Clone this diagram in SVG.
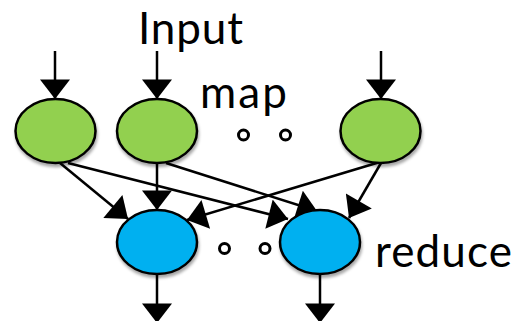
<svg xmlns="http://www.w3.org/2000/svg" width="515" height="321" viewBox="0 0 515 321">
<defs>
<marker id="ah" markerUnits="userSpaceOnUse" markerWidth="30" markerHeight="30" viewBox="0 0 17 26" refX="17" refY="13" orient="auto">
<path d="M0,0 L17,13 L0,26 Z" fill="#000"/>
</marker>
<filter id="sh" x="-20%" y="-20%" width="140%" height="150%">
<feDropShadow dx="1" dy="3" stdDeviation="1.5" flood-color="#000" flood-opacity="0.35"/>
</filter>
</defs>
<style>
.map{fill:#92D050;stroke:#000;stroke-width:2.5;filter:url(#sh)}
.red{fill:#00B0F0;stroke:#000;stroke-width:2.5;filter:url(#sh)}
.c line{stroke:#000;stroke-width:2.5;marker-end:url(#ah)}
.dot{fill:#fff;stroke:#000;stroke-width:3}
text{font-family:Lato,"Open Sans",sans-serif;font-size:44px;fill:#000}
</style>
<text x="138" y="43.5" textLength="105">Input</text>
<text x="200" y="108" textLength="87">map</text>
<text x="375" y="267" textLength="137">reduce</text>
<g class="c" id="connectors">
<line x1="55" y1="51" x2="55" y2="99"/>
<line x1="157" y1="51" x2="157" y2="99"/>
<line x1="381" y1="51" x2="381" y2="99"/>
<line x1="60" y1="163" x2="128" y2="219"/>
<line x1="68" y1="163" x2="288" y2="219"/>
<line x1="157" y1="163" x2="157" y2="210"/>
<line x1="166" y1="163" x2="317" y2="211"/>
<line x1="380" y1="162" x2="187" y2="220"/>
<line x1="381" y1="163" x2="349" y2="218"/>
<line x1="157" y1="274" x2="157" y2="323"/>
<line x1="320" y1="274" x2="320" y2="323"/>
</g>
<g id="map1"><ellipse class="map" cx="55.5" cy="131" rx="40" ry="32"/></g>
<g id="map2"><ellipse class="map" cx="157" cy="131" rx="40" ry="32"/></g>
<g id="map3"><ellipse class="map" cx="380.5" cy="131" rx="40" ry="32"/></g>
<g id="reduce1"><ellipse class="red" cx="157" cy="242" rx="40" ry="32"/></g>
<g id="reduce2"><ellipse class="red" cx="320" cy="242" rx="40" ry="32"/></g>
<g id="dots">
<circle class="dot" cx="243.5" cy="135" r="5"/>
<circle class="dot" cx="285.5" cy="135" r="5"/>
<circle class="dot" cx="224.5" cy="248.5" r="5"/>
<circle class="dot" cx="265" cy="248.5" r="5"/>
</g>
</svg>
